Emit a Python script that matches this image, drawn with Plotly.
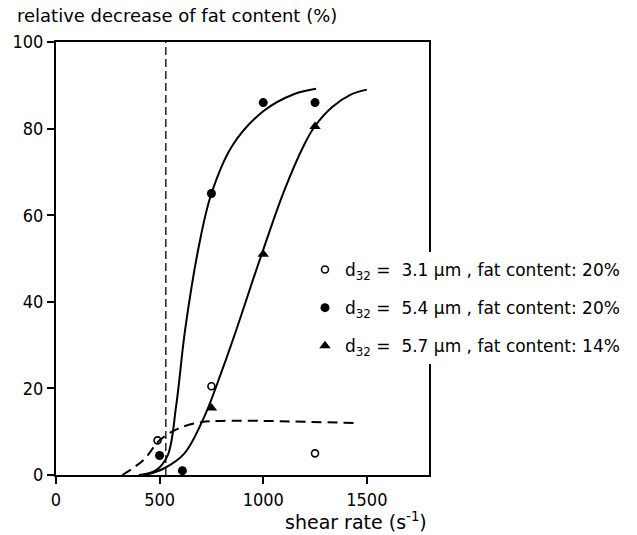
import plotly.graph_objects as go

# Measured points (shear rate in 1/s, relative decrease of fat content in %)
open_x = [490, 750, 1250]
open_y = [8, 20.5, 5]
filled_x = [500, 610, 750, 1000, 1250]
filled_y = [4.5, 1, 65, 86, 86]
tri_x = [750, 1000, 1250]
tri_y = [15.5, 51, 80.5]

# Hand-drawn trend curves through the measurements
curve_open_x = [320, 423, 500, 593, 700, 800, 1000, 1200, 1450]
curve_open_y = [0, 3.5, 8, 10.8, 12.2, 12.5, 12.5, 12.3, 12]
curve_filled_x = [400, 480, 538, 580, 623, 690, 750, 850, 1000, 1150, 1255]
curve_filled_y = [0, 1, 4.4, 16, 33.5, 53, 65, 76, 84, 88, 89.2]
curve_tri_x = [430, 520, 620, 716, 800, 870, 950, 1000, 1100, 1200, 1250, 1333, 1420, 1500]
curve_tri_y = [0, 1.5, 5, 13.5, 24, 33.5, 45, 52, 65.5, 76.5, 80.6, 85, 87.8, 89]

# Critical shear rate marker
critical_shear = 530

x_ticks = [0, 500, 1000, 1500]
y_ticks = [0, 20, 40, 60, 80, 100]

legend_names = [
    "d<sub>32</sub> =  3.1 µm , fat content: 20%",
    "d<sub>32</sub> =  5.4 µm , fat content: 20%",
    "d<sub>32</sub> =  5.7 µm , fat content: 14%",
]

FONT = "DejaVu Sans"
TICK_FONT = "DejaVu Sans Condensed, Liberation Sans Narrow, DejaVu Sans"
W, H = 637, 535
L, R, T, B = 52, 194, 42, 60
plot_w = W - L - R
plot_h = H - T - B

fig = go.Figure()

# critical shear rate line
fig.add_trace(go.Scatter(
    x=[critical_shear, critical_shear], y=[y_ticks[0], y_ticks[-1]],
    mode="lines", line=dict(color="black", width=1.3, dash="8px,4px"),
    showlegend=False, hoverinfo="skip"))

# trend curves
fig.add_trace(go.Scatter(
    x=curve_open_x, y=curve_open_y, mode="lines",
    line=dict(color="black", width=2, dash="10px,6px", shape="spline", smoothing=1.0),
    showlegend=False, hoverinfo="skip"))
fig.add_trace(go.Scatter(
    x=curve_filled_x, y=curve_filled_y, mode="lines",
    line=dict(color="black", width=2, shape="spline", smoothing=1.0),
    showlegend=False, hoverinfo="skip"))
fig.add_trace(go.Scatter(
    x=curve_tri_x, y=curve_tri_y, mode="lines",
    line=dict(color="black", width=2, shape="spline", smoothing=1.0),
    showlegend=False, hoverinfo="skip"))

# measurements
fig.add_trace(go.Scatter(
    x=open_x, y=open_y, mode="markers", name=legend_names[0], legendgroup="a",
    marker=dict(symbol="circle-open", size=7, color="black", line=dict(width=1.6))))
fig.add_trace(go.Scatter(
    x=filled_x, y=filled_y, mode="markers", name=legend_names[1], legendgroup="b",
    marker=dict(symbol="circle", size=9, color="black")))
fig.add_trace(go.Scatter(
    x=tri_x, y=tri_y, mode="markers", name=legend_names[2], legendgroup="c",
    marker=dict(symbol="triangle-up", size=10, color="black")))

axis_common = dict(
    showgrid=False, zeroline=False, showline=True, linecolor="black", linewidth=2,
    mirror=True, ticks="outside", ticklen=7, tickwidth=1.5, tickcolor="black",
    tickfont=dict(family=TICK_FONT, size=18, color="black"),
)

fig.update_xaxes(range=[0, 1800], tickvals=x_ticks, **axis_common)
fig.update_yaxes(range=[0, 100], tickvals=y_ticks, **axis_common)

fig.add_annotation(
    text="relative decrease of fat content (%)", xref="paper", yref="paper",
    x=(9 - L) / plot_w, y=(H - B - 16) / plot_h, xanchor="left", yanchor="middle",
    showarrow=False, font=dict(family=FONT, size=18, color="black"))
fig.add_annotation(
    text="shear rate (s<sup>-1</sup>)", xref="paper", yref="paper",
    x=1.0, y=(H - B - 521) / plot_h, xanchor="right", yanchor="middle",
    showarrow=False, font=dict(family=FONT, size=19, color="black"))

fig.update_layout(
    width=W, height=H,
    margin=dict(l=L, r=R, t=T, b=B),
    paper_bgcolor="white", plot_bgcolor="white",
    showlegend=True,
    legend=dict(
        x=(313 - L) / plot_w, y=(H - B - 252) / plot_h, xanchor="left", yanchor="top",
        bgcolor="white", borderwidth=0, tracegroupgap=13,
        font=dict(family=FONT, size=17, color="black"),
        itemwidth=30,
    ),
)

fig.write_html("out.html")
